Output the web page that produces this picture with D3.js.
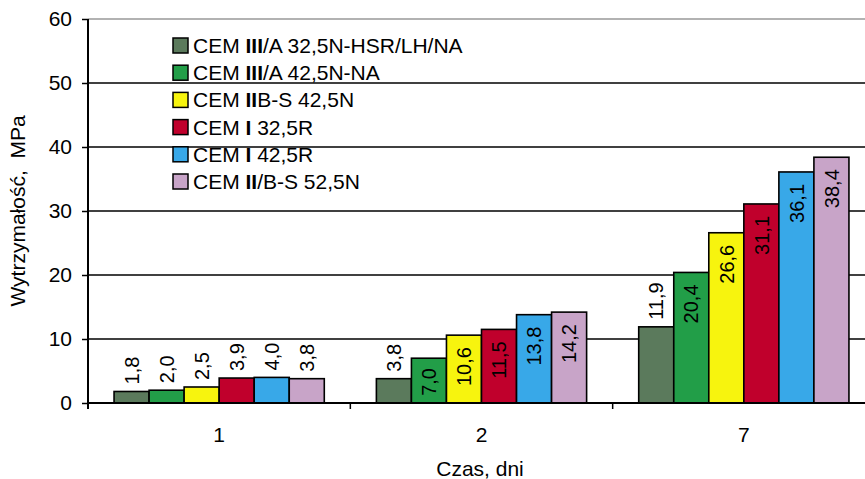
<!DOCTYPE html>
<html><head><meta charset="utf-8">
<script src="https://cdn.jsdelivr.net/npm/d3@7/dist/d3.min.js"></script>
<style>body{margin:0;background:#fff}svg{display:block}text{font-family:"Liberation Sans",Arial,sans-serif}</style>
</head><body><svg id="c" width="865" height="479"></svg>
<script>
const categories = ["1", "2", "7"];
const seriesNames = ["CEM III/A 32,5N-HSR/LH/NA", "CEM III/A 42,5N-NA", "CEM IIB-S 42,5N", "CEM I 32,5R", "CEM I 42,5R", "CEM II/B-S 52,5N"];
const seriesColors = ["#5b7a5c", "#229e48", "#f7f40e", "#c0002c", "#38a8e8", "#c8a4c8"];
const values = [
  [1.8, 3.8, 11.9],
  [2.0, 7.0, 20.4],
  [2.5, 10.6, 26.6],
  [3.9, 11.5, 31.1],
  [4.0, 13.8, 36.1],
  [3.8, 14.2, 38.4]
];
const yTicks = [0, 10, 20, 30, 40, 50, 60];
const yTitle = "Wytrzymałość,  MPa";
const xTitle = "Czas, dni";

const svg = d3.select("#c");
const L = 88, R = 875, T = 19, B = 403;
const x = d3.scaleBand().domain(categories).range([L, R]);
const inner = d3.scaleBand().domain(d3.range(seriesNames.length)).range([0, x.bandwidth()]).paddingOuter(0.7435);
const y = d3.scaleLinear().domain([0, 60]).range([B, T]);
const fmt = v => d3.format(".1f")(v).replace(".", ",");
const FS = 21, VFS = 20;

// gridlines
svg.append("g").selectAll("line").data(yTicks.filter(t => t > 0)).join("line")
  .attr("x1", L).attr("x2", 865).attr("y1", d => y(d)).attr("y2", d => y(d))
  .attr("stroke", d => d === 60 ? "#999" : "#000").attr("stroke-width", 1.5);

// y axis
const ya = svg.append("g").attr("transform", `translate(${L},0)`)
  .call(d3.axisLeft(y).tickValues(yTicks).tickSize(6).tickPadding(10));
ya.select(".domain").attr("stroke", "#000").attr("stroke-width", 2).attr("d", `M0,${T}V${B + 6}`);
ya.selectAll(".tick line").attr("stroke", "#000").attr("stroke-width", 1.5);
ya.selectAll(".tick text").attr("font-size", FS).attr("fill", "#000").attr("font-family", '"Liberation Sans",Arial,sans-serif');

// bars
const g = svg.append("g");
seriesNames.forEach((s, i) => {
  g.selectAll(".b" + i).data(values[i]).join("rect")
    .attr("x", (d, j) => x(categories[j]) + inner(i))
    .attr("y", d => y(d))
    .attr("width", inner.bandwidth())
    .attr("height", d => y(0) - y(d))
    .attr("fill", seriesColors[i]).attr("stroke", "#000").attr("stroke-width", 1.6);
});

// x axis
const xa = svg.append("g").attr("transform", `translate(0,${B})`);
xa.append("line").attr("x1", L).attr("x2", 865).attr("stroke", "#000").attr("stroke-width", 2);
xa.selectAll(".sep").data(categories.slice(1)).join("line")
  .attr("x1", d => x(d)).attr("x2", d => x(d)).attr("y1", 0).attr("y2", 6)
  .attr("stroke", "#000").attr("stroke-width", 1.5);
xa.selectAll(".lab").data(categories).join("text")
  .attr("x", d => x(d) + x.bandwidth() / 2).attr("y", 39)
  .attr("text-anchor", "middle").attr("font-size", FS).text(d => d);

// value labels
seriesNames.forEach((s, i) => {
  values[i].forEach((v, j) => {
    const cx = x(categories[j]) + inner(i) + inner.bandwidth() / 2;
    const top = y(v), h = y(0) - y(v);
    const txt = fmt(v);
    const len = txt.length * 0.5 * VFS;
    const outside = i === 0 || h < 40;
    let yy, anchor;
    if (outside) { yy = top - 7; anchor = "start"; }
    else { yy = Math.min(top + 12, B - len - 5); anchor = "end"; }
    g.append("text").attr("transform", `translate(${cx},${yy}) rotate(-90)`)
      .attr("text-anchor", anchor).attr("dy", "0.36em").attr("font-size", VFS).text(txt);
  });
});

// titles
svg.append("text").attr("x", 480).attr("y", 476).attr("text-anchor", "middle").attr("font-size", FS).text(xTitle);
svg.append("text").attr("transform", `translate(25,211) rotate(-90)`).attr("text-anchor", "middle")
  .style("white-space", "pre").attr("font-size", FS).text(yTitle);

// legend
const lg = svg.append("g").attr("transform", "translate(173,45.5)");
seriesNames.forEach((s, i) => {
  const row = lg.append("g").attr("transform", `translate(0,${i * 27.2})`);
  row.append("rect").attr("x", 0).attr("y", -7.5).attr("width", 15).attr("height", 15)
    .attr("fill", seriesColors[i]).attr("stroke", "#000").attr("stroke-width", 1.5);
  const m = s.match(/^(CEM )(I+)(.*)$/);
  const t = row.append("text").attr("x", 20).attr("y", 0).attr("dy", "0.36em").attr("font-size", FS);
  t.append("tspan").text(m[1]);
  t.append("tspan").attr("font-weight", "bold").text(m[2]);
  t.append("tspan").text(m[3]);
});
</script></body></html>
